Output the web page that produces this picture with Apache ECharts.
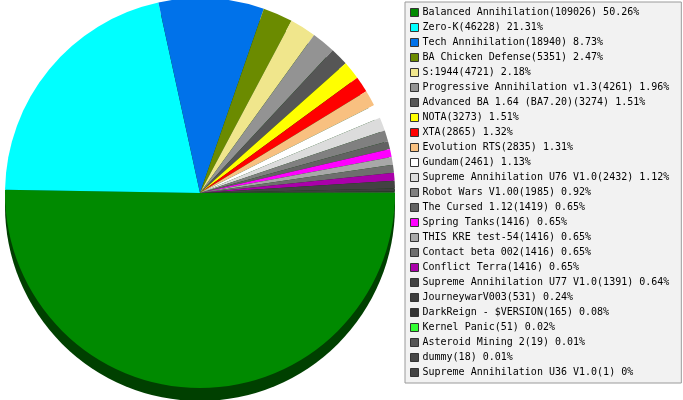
<!DOCTYPE html>
<html>
<head>
<meta charset="utf-8">
<script src="https://cdn.jsdelivr.net/npm/echarts@6/dist/echarts.min.js"></script>
<style>
html,body{margin:0;padding:0;background:#fff;}
#c{width:683px;height:400px;}
</style>
</head>
<body>
<div id="c"></div>
<script>
const names = [
  "Balanced Annihilation", "Zero-K", "Tech Annihilation", "BA Chicken Defense", "S:1944",
  "Progressive Annihilation v1.3", "Advanced BA 1.64 (BA7.20)", "NOTA", "XTA", "Evolution RTS",
  "Gundam", "Supreme Annihilation U76 V1.0", "Robot Wars V1.00", "The Cursed 1.12", "Spring Tanks",
  "THIS KRE test-54", "Contact beta 002", "Conflict Terra", "Supreme Annihilation U77 V1.0", "JourneywarV003",
  "DarkReign - $VERSION", "Kernel Panic", "Asteroid Mining 2", "dummy", "Supreme Annihilation U36 V1.0"
];
const counts = [109026, 46228, 18940, 5351, 4721, 4261, 3274, 3273, 2865, 2835,
  2461, 2432, 1985, 1419, 1416, 1416, 1416, 1416, 1391, 531, 165, 51, 19, 18, 1];
const percents = ["50.26", "21.31", "8.73", "2.47", "2.18", "1.96", "1.51", "1.51", "1.32", "1.31",
  "1.13", "1.12", "0.92", "0.65", "0.65", "0.65", "0.65", "0.65", "0.64", "0.24", "0.08", "0.02", "0.01", "0.01", "0"];
const colors = ["#008a00", "#00ffff", "#0072ea", "#6b8b00", "#f0e68c", "#939393", "#565656", "#ffff00", "#ff0000", "#f8c080",
  "#ffffff", "#dcdcdc", "#808080", "#626262", "#ff00ff", "#a8a8a8", "#6e6e6e", "#aa00aa", "#424242", "#3e3e3e",
  "#343434", "#33ff33", "#555555", "#474747", "#444444"];

const data = names.map((n, i) => ({ name: n, value: counts[i], itemStyle: { color: colors[i] } }));
const labelMap = {};
names.forEach((n, i) => { labelMap[n] = n + "(" + counts[i] + ") " + percents[i] + "%"; });

const chart = echarts.init(document.getElementById('c'), null, { renderer: 'canvas' });
chart.setOption({
  animation: false,
  legend: {
    orient: 'vertical',
    left: 405,
    top: 2,
    width: 277,
    padding: [3, 12, 3, 5],
    itemGap: 0,
    itemWidth: 8,
    itemHeight: 8,
    icon: 'rect',
    backgroundColor: '#f2f2f2',
    borderColor: '#9a9a9a',
    borderWidth: 1,
    itemStyle: { borderColor: '#333', borderWidth: 1 },
    textStyle: { fontFamily: 'DejaVu Sans Mono', fontSize: 10, color: '#000', lineHeight: 15, padding: [0, 0, 0, -1] },
    selectedMode: false,
    data: names,
    formatter: n => labelMap[n]
  },
  series: [
    {
      type: 'pie',
      silent: true,
      center: [200, 206],
      radius: 195,
      startAngle: 0,
      clockwise: true,
      label: { show: false },
      labelLine: { show: false },
      itemStyle: { borderWidth: 0 },
      data: [{ name: '_shadow', value: 1, itemStyle: { color: '#004000' } }],
      z: 1
    },
    {
      type: 'pie',
      silent: true,
      center: [200, 193],
      radius: 195,
      startAngle: 0,
      clockwise: true,
      avoidLabelOverlap: false,
      minShowLabelAngle: 0,
      label: { show: false },
      labelLine: { show: false },
      itemStyle: { borderWidth: 0 },
      data: data,
      z: 2
    }
  ]
});
</script>
</body>
</html>
